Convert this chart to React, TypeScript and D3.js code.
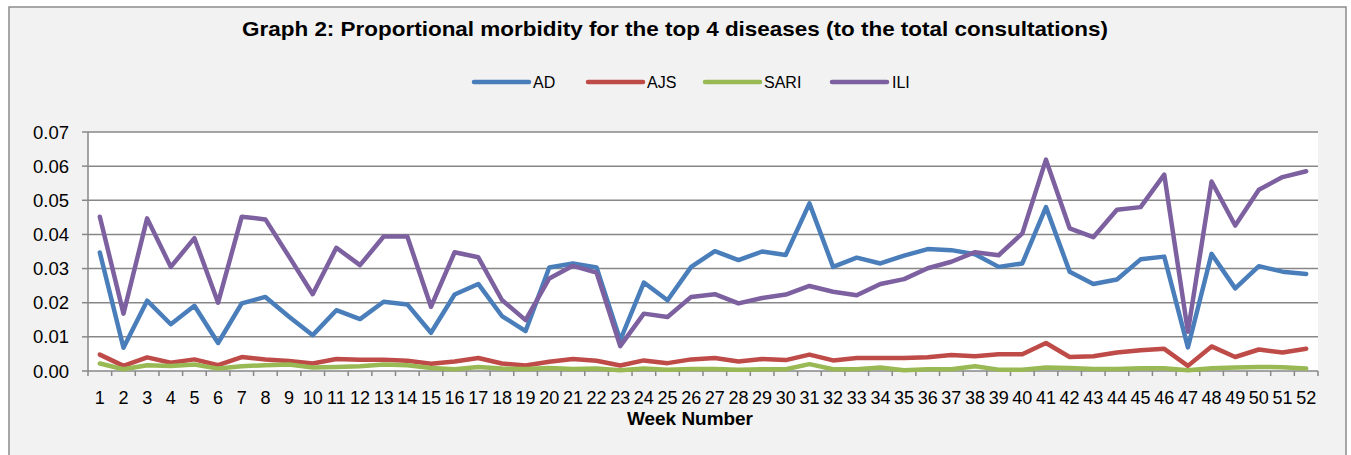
import React from "react";
import * as d3 from "d3";

const weeks: number[] = Array.from({ length: 52 }, (_, i) => i + 1);

const AD: number[] = [
  0.0347, 0.0068, 0.0206, 0.0137, 0.0191, 0.0082, 0.0198, 0.0217, 0.0159, 0.0105,
  0.0178, 0.0152, 0.0203, 0.0195, 0.0112, 0.0224, 0.0255, 0.0161, 0.0117, 0.0303,
  0.0315, 0.0303, 0.0090, 0.0259, 0.0207, 0.0305, 0.0351, 0.0325, 0.0350, 0.0340,
  0.0491, 0.0305, 0.0332, 0.0315, 0.0338, 0.0357, 0.0354, 0.0342, 0.0305, 0.0315,
  0.0480, 0.0291, 0.0255, 0.0268, 0.0327, 0.0335, 0.0069, 0.0343, 0.0242, 0.0307,
  0.0291, 0.0284,
];

const AJS: number[] = [
  0.0048, 0.0015, 0.0040, 0.0024, 0.0034, 0.0017, 0.0041, 0.0034, 0.0029, 0.0022,
  0.0035, 0.0033, 0.0033, 0.0030, 0.0021, 0.0028, 0.0038, 0.0022, 0.0016, 0.0027,
  0.0035, 0.0030, 0.0016, 0.0031, 0.0023, 0.0034, 0.0038, 0.0028, 0.0035, 0.0032,
  0.0048, 0.0031, 0.0038, 0.0038, 0.0038, 0.0040, 0.0047, 0.0043, 0.0049, 0.0049,
  0.0082, 0.0041, 0.0043, 0.0054, 0.0061, 0.0065, 0.0015, 0.0072, 0.0041, 0.0063,
  0.0054, 0.0065,
];

const SARI: number[] = [
  0.0022, 0.0005, 0.0017, 0.0015, 0.0019, 0.0007, 0.0014, 0.0017, 0.0019, 0.0010,
  0.0012, 0.0014, 0.0019, 0.0017, 0.0009, 0.0005, 0.0012, 0.0007, 0.0006, 0.0009,
  0.0006, 0.0007, 0.0002, 0.0007, 0.0004, 0.0006, 0.0006, 0.0004, 0.0005, 0.0005,
  0.0020, 0.0005, 0.0005, 0.0010, 0.0002, 0.0005, 0.0005, 0.0014, 0.0004, 0.0004,
  0.0010, 0.0009, 0.0006, 0.0006, 0.0008, 0.0008, 0.0002, 0.0008, 0.0010, 0.0012,
  0.0011, 0.0007,
];

const ILI: number[] = [
  0.0452, 0.0168, 0.0447, 0.0305, 0.0389, 0.0200, 0.0452, 0.0444, 0.0335, 0.0225,
  0.0361, 0.0310, 0.0394, 0.0394, 0.0188, 0.0348, 0.0333, 0.0208, 0.0149, 0.0271,
  0.0308, 0.0288, 0.0073, 0.0168, 0.0158, 0.0217, 0.0225, 0.0198, 0.0214, 0.0224,
  0.0249, 0.0232, 0.0222, 0.0255, 0.0269, 0.0301, 0.0320, 0.0348, 0.0339, 0.0403,
  0.0619, 0.0418, 0.0392, 0.0472, 0.0480, 0.0575, 0.0115, 0.0555, 0.0426, 0.0531,
  0.0568, 0.0585,
];

const seriesNames: string[] = ["AD", "AJS", "SARI", "ILI"];
const seriesColors: string[] = ["#4a7ebb", "#be4b48", "#98b954", "#7d60a0"];
const yTicks: number[] = [0, 0.01, 0.02, 0.03, 0.04, 0.05, 0.06, 0.07];

const TITLE = "Graph 2: Proportional morbidity for the top 4 diseases (to the total consultations)";

export default function App() {
  const W = 1351;
  const H = 455;
  const left = 88;
  const right = 1318;
  const top = 132;
  const bottom = 371;

  const x = d3.scaleBand<number>().domain(weeks).range([left, right]).padding(0);
  const y = d3.scaleLinear().domain([0, 0.07]).range([bottom, top]);

  const line = d3
    .line<number>()
    .x((_, i) => (x(weeks[i]) as number) + x.bandwidth() / 2)
    .y((d) => y(d));

  const allSeries = [AD, AJS, SARI, ILI];
  const grid = "#878787";
  const font = "'Liberation Sans', Arial, sans-serif";

  const legendItems = [
    { lx: 474, tx: 533 },
    { lx: 588, tx: 647 },
    { lx: 705, tx: 764 },
    { lx: 832, tx: 892 },
  ];

  return (
    <svg
      width={W}
      height={H}
      style={{ position: "absolute", left: 0, top: 0, display: "block" }}
      fontFamily={font}
    >
      <rect x={0} y={0} width={W} height={H} fill="#ffffff" />
      <rect x={9} y={7} width={1337} height={470} fill="#f2f2f2" stroke="#8c8c8c" strokeWidth={1.5} />
      <text
        x={675}
        y={36}
        textAnchor="middle"
        fontWeight="bold"
        fontSize={20.5}
        textLength={866}
        lengthAdjust="spacingAndGlyphs"
        fill="#000"
      >
        {TITLE}
      </text>

      {seriesNames.map((name, i) => (
        <g key={name}>
          <line
            x1={legendItems[i].lx}
            x2={legendItems[i].lx + 55}
            y1={82}
            y2={82}
            stroke={seriesColors[i]}
            strokeWidth={4.5}
            strokeLinecap="round"
          />
          <text x={legendItems[i].tx} y={88} fontSize={16} fill="#000">
            {name}
          </text>
        </g>
      ))}

      <rect x={left} y={top} width={right - left} height={bottom - top} fill="#ffffff" />

      {yTicks.map((t) => (
        <g key={t}>
          {t > 0 && (
            <line x1={left} x2={right} y1={y(t)} y2={y(t)} stroke={grid} strokeWidth={1.5} />
          )}
          <line x1={left - 6} x2={left} y1={y(t)} y2={y(t)} stroke={grid} strokeWidth={1.5} />
          <text x={69} y={y(t) + 6.5} textAnchor="end" fontSize={18.5} fill="#000">
            {t.toFixed(2)}
          </text>
        </g>
      ))}

      <line x1={left} x2={left} y1={top} y2={bottom} stroke={grid} strokeWidth={1.5} />
      <line x1={left} x2={right} y1={bottom} y2={bottom} stroke={grid} strokeWidth={1.5} />
      {weeks.concat([53]).map((w, i) => {
        const xx = left + i * x.bandwidth();
        return <line key={"t" + w} x1={xx} x2={xx} y1={bottom} y2={bottom + 5} stroke={grid} strokeWidth={1.5} />;
      })}
      {weeks.map((w) => (
        <text
          key={"l" + w}
          x={(x(w) as number) + x.bandwidth() / 2}
          y={404}
          textAnchor="middle"
          fontSize={18}
          fill="#000"
        >
          {w}
        </text>
      ))}
      <text x={690} y={425} textAnchor="middle" fontWeight="bold" fontSize={17.5} textLength={126} lengthAdjust="spacingAndGlyphs" fill="#000">
        Week Number
      </text>

      {allSeries.map((s, i) => (
        <path
          key={seriesNames[i]}
          d={line(s) || ""}
          fill="none"
          stroke={seriesColors[i]}
          strokeWidth={4.5}
          strokeLinejoin="round"
          strokeLinecap="round"
        />
      ))}
    </svg>
  );
}
